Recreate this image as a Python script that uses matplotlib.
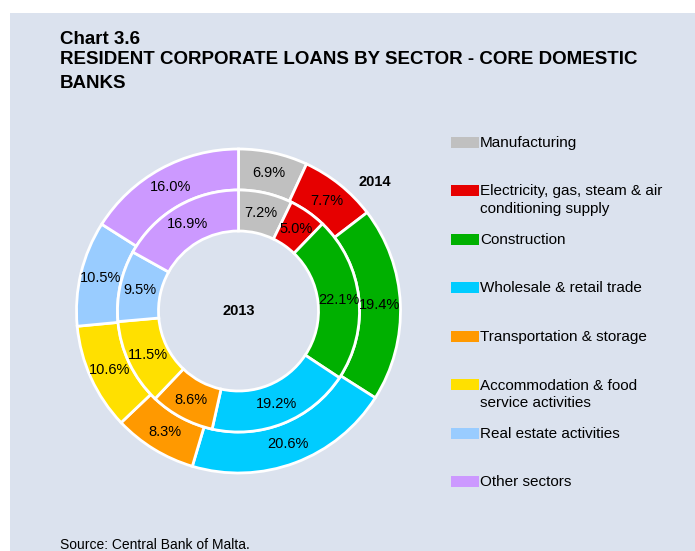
import matplotlib.pyplot as plt
from matplotlib.patches import Rectangle
import numpy as np

plt.rcParams['font.family'] = ['Liberation Sans', 'DejaVu Sans']

# data
sectors = ["Manufacturing",
           "Electricity, gas, steam & air\nconditioning supply",
           "Construction",
           "Wholesale & retail trade",
           "Transportation & storage",
           "Accommodation & food\nservice activities",
           "Real estate activities",
           "Other sectors"]
share_2013 = [7.2, 5.0, 22.1, 19.2, 8.6, 11.5, 9.5, 16.9]
share_2014 = [6.9, 7.7, 19.4, 20.6, 8.3, 10.6, 10.5, 16.0]
colors = ["#c0c0c0", "#e60000", "#00b000", "#00ccff",
          "#ff9900", "#ffe000", "#99ccff", "#cc99ff"]

W, H = 695, 551
fig = plt.figure(figsize=(W / 100, H / 100), dpi=100, facecolor="white")
bg = "#dbe2ee"

# panel background
fig.patches.append(Rectangle((10 / W, 0), 1 - 10 / W, (H - 13) / H,
                             transform=fig.transFigure, facecolor=bg,
                             edgecolor="none", zorder=-5))

# titles
tkw = dict(fontsize=13.5, fontweight="bold", va="center")
fig.text(60 / W, 1 - 39 / H, "Chart 3.6", **tkw)
fig.text(60 / W, 1 - 60 / H, "RESIDENT CORPORATE LOANS BY SECTOR - CORE DOMESTIC", **tkw)
fig.text(60 / W, 1 - 83 / H, "BANKS", **tkw)
fig.text(60 / W, 1 - 545 / H, "Source: Central Bank of Malta.", fontsize=10, va="center")

# donut axes
cx, cy, R = 238.5, 311, 162
side = R * 2.1
ax = fig.add_axes([(cx - side / 2) / W, (H - cy - side / 2) / H, side / W, side / H])
ax.set_facecolor("none")

r_out, r_mid, r_in = 1.0, 121 / 162, 80 / 162
w_out = r_out - r_mid
w_in = r_mid - r_in

wp = dict(edgecolor="white", linewidth=2)
outer, _ = ax.pie(share_2014, radius=r_out, colors=colors, startangle=90,
                  counterclock=False, wedgeprops=dict(width=w_out, **wp))
inner, _ = ax.pie(share_2013, radius=r_mid, colors=colors, startangle=90,
                  counterclock=False, wedgeprops=dict(width=w_in, **wp))
ax.set_xlim(-1.05, 1.05)
ax.set_ylim(-1.05, 1.05)
ax.set_aspect("equal")


def put_labels(wedges, vals, r):
    for wdg, v in zip(wedges, vals):
        ang = np.deg2rad((wdg.theta1 + wdg.theta2) / 2)
        ax.text(r * np.cos(ang), r * np.sin(ang), f"{v:.1f}%",
                ha="center", va="center", fontsize=10.5)


put_labels(outer, share_2014, (r_out + r_mid) / 2)
put_labels(inner, share_2013, (r_mid + r_in) / 2)

ax.text(0, 0, "2013", ha="center", va="center", fontsize=10.5, fontweight="bold")
ax.text((375 - cx) / R, (cy - 182) / R, "2014", ha="center", va="center",
        fontsize=10.5, fontweight="bold")

# legend
for i, (name, c) in enumerate(zip(sectors, colors)):
    yc = 142 + i * 48.5
    fig.patches.append(Rectangle((451 / W, 1 - (yc + 5.5) / H), 28 / W, 11 / H,
                                 transform=fig.transFigure, facecolor=c,
                                 edgecolor="none"))
    fig.text(480 / W, 1 - (yc - 6) / H, name, fontsize=11, va="top",
             linespacing=1.3)

fig.savefig("out.png", dpi=100, facecolor="white")
